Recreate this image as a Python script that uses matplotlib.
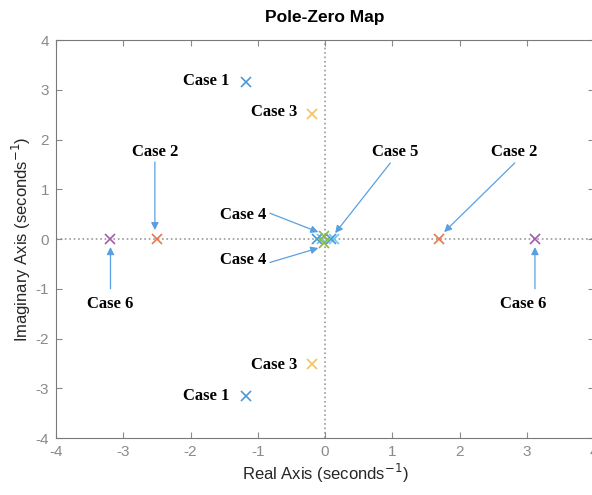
import matplotlib.pyplot as plt

plt.rcParams['axes.unicode_minus'] = False

# poles per case (real, imag)
case1_re = [-1.18, -1.18]
case1_im = [3.15, -3.15]
case2_re = [-2.5, 1.7]
case2_im = [0.0, 0.0]
case3_re = [-0.2, -0.2]
case3_im = [2.52, -2.52]
case4_re = [-0.02, -0.02]
case4_im = [0.07, -0.07]
case5_re = [-0.12, 0.09]
case5_im = [0.0, 0.0]
case5b_re = [-0.05, 0.13]
case5b_im = [0.0, 0.0]
case6_re = [-3.2, 3.12]
case6_im = [0.0, 0.0]

# annotation labels: (text, text position, arrow target or None)
labels = ["Case 1", "Case 3", "Case 2", "Case 2", "Case 5", "Case 4", "Case 4",
          "Case 6", "Case 6", "Case 3", "Case 1"]
label_xy = [(-1.77, 3.18), (-0.76, 2.55), (-2.53, 1.75), (2.81, 1.75), (1.04, 1.75),
            (-1.22, 0.48), (-1.22, -0.42), (-3.19, -1.3), (2.94, -1.3),
            (-0.76, -2.53), (-1.77, -3.16)]
arrow_from = [None, None, (-2.53, 1.55), (2.82, 1.53), (0.97, 1.53),
              (-0.82, 0.52), (-0.82, -0.47), (-3.19, -1.0), (3.12, -1.0), None, None]
arrow_to = [None, None, (-2.53, 0.18), (1.77, 0.14), (0.15, 0.12),
            (-0.1, 0.14), (-0.1, -0.18), (-3.19, -0.16), (3.12, -0.16), None, None]

fig = plt.figure(figsize=(5.92, 4.95), dpi=100)
ax = fig.add_axes([0.0946, 0.115, 0.909, 0.804])

ax.axhline(0, color="#9a9a9a", linestyle=":", linewidth=1.2, zorder=1)
ax.axvline(0, color="#9a9a9a", linestyle=":", linewidth=1.2, zorder=1)

mk = dict(marker="x", linestyle="none", markersize=6.5, markeredgewidth=1.2, zorder=3)
ax.plot(case1_re, case1_im, color="#4a9ad8", **mk)
ax.plot(case2_re, case2_im, color="#e8784c", **mk)
ax.plot(case3_re, case3_im, color="#f4c25c", **mk)
ax.plot(case6_re, case6_im, color="#a55bab", **mk)
ax.plot(case5b_re, case5b_im, color="#6ccbf0", **mk)
ax.plot(case5_re, case5_im, color="#4a9ad8", **mk)
ax.plot(case4_re, case4_im, color="#8ab84a", **mk)

for txt, xy, a0, a1 in zip(labels, label_xy, arrow_from, arrow_to):
    ax.text(xy[0], xy[1], txt, ha="center", va="center", fontsize=12,
            fontweight="bold", family="Liberation Serif", color="black", zorder=4)
    if a0 is not None:
        ax.annotate("", xy=a1, xytext=a0,
                    arrowprops=dict(arrowstyle="-|>", color="#5aa0e0", lw=0.9,
                                    mutation_scale=11, shrinkA=0, shrinkB=0))

ax.set_xlim(-4, 4)
ax.set_ylim(-4, 4)
ax.set_xticks(range(-4, 5))
ax.set_yticks(range(-4, 5))
for s in ax.spines.values():
    s.set_color("#7a7a7a")
ax.tick_params(direction="in", top=True, right=True, colors="#8a8a8a",
               labelsize=11, length=4, pad=5)
for lab in ax.get_xticklabels() + ax.get_yticklabels():
    lab.set_family("Liberation Sans")

ax.set_xlabel("Real Axis (seconds$^{-1}$)", fontsize=12, color="#262626",
              family="Liberation Sans", labelpad=2)
ax.set_ylabel("Imaginary Axis (seconds$^{-1}$)", fontsize=12, color="#262626",
              family="Liberation Sans", labelpad=2)
ax.set_title("Pole-Zero Map", fontsize=12.5, fontweight="bold",
             family="Liberation Sans", pad=13)

fig.savefig("out.png", dpi=100)
